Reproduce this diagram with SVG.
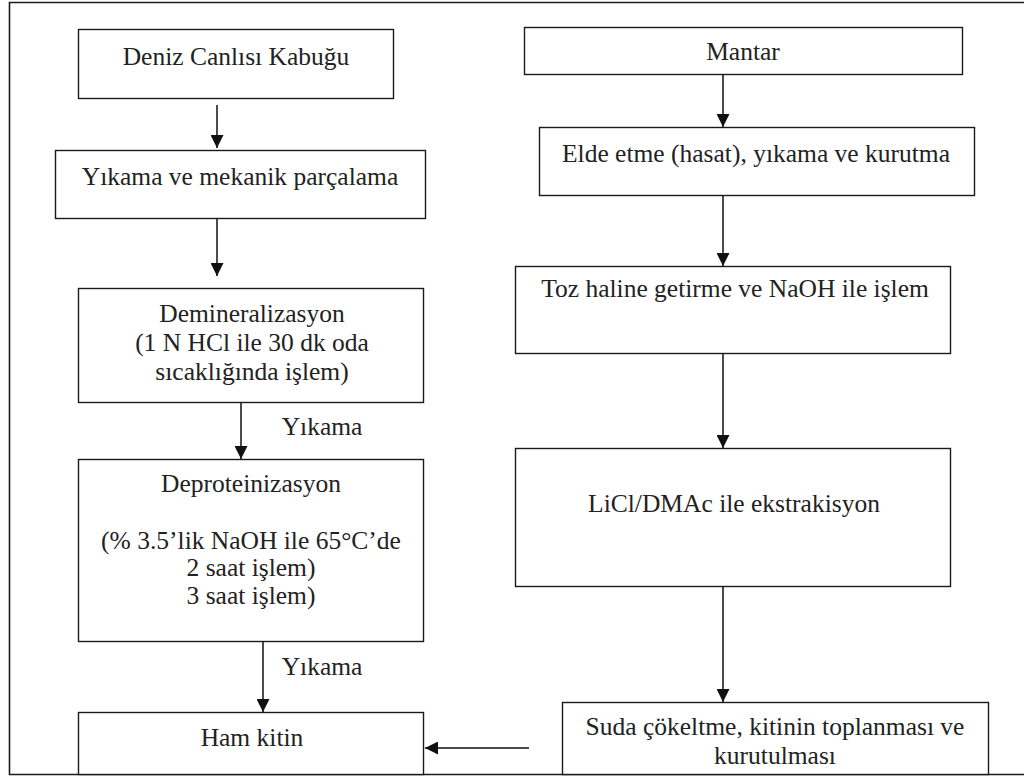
<svg xmlns="http://www.w3.org/2000/svg" width="1024" height="776" viewBox="0 0 1024 776">
<defs>
<marker id="ah" markerWidth="13" markerHeight="13" refX="13" refY="6.5" orient="auto" markerUnits="userSpaceOnUse">
<path d="M0,0 L13,6.5 L0,13 Z" fill="#111"/>
</marker>
</defs>
<style>
.box{fill:#fff;stroke:#1a1a1a;stroke-width:1.4}
.t{font-family:'Liberation Serif','Tinos','DejaVu Serif',serif;font-size:25.5px;fill:#222;text-anchor:middle}
.c{stroke:#111;stroke-width:1.5;fill:none;marker-end:url(#ah)}
</style>
<rect x="0" y="0" width="1024" height="776" fill="#fff"/>
<path d="M1024,2.5 H9.5 V774.5 H1024" fill="none" stroke="#1a1a1a" stroke-width="1.6"/>
<g id="n1"><rect class="box" x="78.5" y="29.5" width="315" height="69"/><text class="t" x="236" y="65">Deniz Canlısı Kabuğu</text></g>
<g id="n2"><rect class="box" x="55.5" y="150.5" width="370" height="68"/><text class="t" x="240" y="185">Yıkama ve mekanik parçalama</text></g>
<g id="n3"><rect class="box" x="78.5" y="288.5" width="345" height="114"/><text class="t" x="252" y="322">Demineralizasyon</text><text class="t" x="252" y="351">(1 N HCl ile 30 dk oda</text><text class="t" x="252" y="380">sıcaklığında işlem)</text></g>
<g id="n4"><rect class="box" x="78.5" y="459.5" width="345" height="182"/><text class="t" x="251" y="492">Deproteinizasyon</text><text class="t" x="251" y="549">(% 3.5’lik NaOH ile 65°C’de</text><text class="t" x="251" y="576">2 saat işlem)</text><text class="t" x="251" y="604">3 saat işlem)</text></g>
<g id="n5"><rect class="box" x="78.5" y="712.5" width="345" height="62"/><text class="t" x="252" y="746">Ham kitin</text></g>
<g id="m1"><rect class="box" x="524.5" y="27.5" width="438" height="47"/><text class="t" x="743" y="60">Mantar</text></g>
<g id="m2"><rect class="box" x="539.5" y="127.5" width="435" height="68"/><text class="t" x="756" y="162">Elde etme (hasat), yıkama ve kurutma</text></g>
<g id="m3"><rect class="box" x="515.5" y="266.5" width="435" height="87"/><text class="t" x="735" y="297">Toz haline getirme ve NaOH ile işlem</text></g>
<g id="m4"><rect class="box" x="515.5" y="448.5" width="435" height="138"/><text class="t" x="734" y="512">LiCl/DMAc ile ekstrakisyon</text></g>
<g id="m5"><rect class="box" x="562.5" y="702.5" width="426" height="72"/><text class="t" x="775" y="735">Suda çökeltme, kitinin toplanması ve</text><text class="t" x="775" y="764">kurutulması</text></g>
<g id="connectors">
<line class="c" x1="217" y1="105" x2="217" y2="148"/>
<line class="c" x1="217" y1="219" x2="217" y2="276"/>
<line class="c" x1="241" y1="403" x2="241" y2="459"/>
<line class="c" x1="263" y1="642" x2="263" y2="712"/>
<line class="c" x1="723" y1="75" x2="723" y2="127"/>
<line class="c" x1="723" y1="196" x2="723" y2="266"/>
<line class="c" x1="723" y1="354" x2="723" y2="448"/>
<line class="c" x1="723" y1="587" x2="723" y2="702"/>
<line class="c" x1="529" y1="748" x2="425" y2="748"/>
<text class="t" x="322" y="435">Yıkama</text>
<text class="t" x="322" y="675">Yıkama</text>
</g>
</svg>
